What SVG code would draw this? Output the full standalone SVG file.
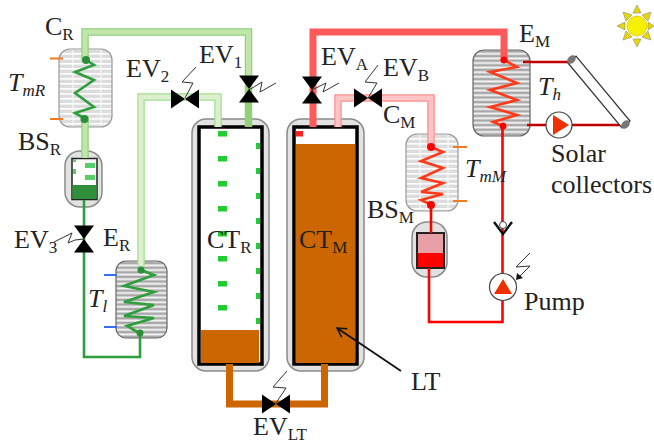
<svg xmlns="http://www.w3.org/2000/svg" width="654" height="445" viewBox="0 0 654 445">
<style>
text{font-family:"Liberation Serif","Times New Roman",serif;font-size:26px;fill:#222}
.i{font-style:italic}
.s{font-size:17px}
.box{stroke:#999;stroke-width:1.2}
.boxd{stroke:#666;stroke-width:1.2}
.coilg{fill:none;stroke:#2f9e3c;stroke-width:2.6}
.coilr{fill:none;stroke:#ff3a1a;stroke-width:2.6}
.zap{fill:none;stroke:#333;stroke-width:1}
.tank{fill:#e2e2e2;stroke:#8a8a8a;stroke-width:1.5}
.inner{fill:#fff;stroke:#000;stroke-width:3.5}
.thin{fill:none;stroke:#ff0000;stroke-width:2.6}
.thing{fill:none;stroke:#2f9e3c;stroke-width:2.6}
.dr{fill:none;stroke:#c00000;stroke-width:2.4}
.go{fill:none;stroke:#93d07c;stroke-width:7.500}
.gi{fill:none;stroke:#c2e5ac;stroke-width:5}
.lg{fill:none;stroke:#dcefce;stroke-width:5}
.lgo{fill:none;stroke:#a5de90;stroke-width:7.500}
.wr{fill:none;stroke:#ff5a5a;stroke-width:7}
.lr{fill:none;stroke:#ffc4c4;stroke-width:5}
.lro{fill:none;stroke:#ff8c8c;stroke-width:7.500}
.br{fill:none;stroke:#cc6600;stroke-width:7}
.dot{fill:#ff0000}.dotg{fill:#2a8f3a}
.sq{fill:#22cc33}
.tick{stroke:#f07a20;stroke-width:2}
.tickb{stroke:#3a6cf0;stroke-width:2}
.ray{fill:#e8d800;stroke:#888;stroke-width:.6}
.vs{stroke:#fff;stroke-width:1.500;opacity:.6}
</style>
<defs>
<pattern id="light" width="53" height="5" patternUnits="userSpaceOnUse"><rect width="53" height="5" fill="#dcdcdc"/><rect y="3" width="53" height="1.6" fill="#fff"/></pattern>
<pattern id="dark" width="53" height="4.6" patternUnits="userSpaceOnUse"><rect width="53" height="4.6" fill="#a8a8a8"/><rect y="2.2" width="53" height="2" fill="#f4f4f4"/></pattern>
<g id="vh"><path d="M-14,-9.500V9.500L0,0ZM14,-9.500V9.500L0,0Z" fill="#000"/></g>
<g id="vv"><path d="M-10,-13.500H10L0,0ZM-10,13.500H10L0,0Z" fill="#000"/></g>
<marker id="ah" markerWidth="12" markerHeight="12" refX="10" refY="6" orient="auto" markerUnits="userSpaceOnUse"><path d="M1,1L10,6L1,11" fill="none" stroke="#111" stroke-width="1.500"/></marker>
</defs>

<g id="CTR"><rect class="tank" x="192" y="119" width="77" height="252" rx="14"/><rect class="inner" x="199" y="127" width="63" height="237"/>
<rect x="201" y="330" width="58" height="33" fill="#cc6600"/>
<g class="sq"><rect x="218" y="131" width="9" height="5.500"/><rect x="218" y="156" width="9" height="5.500"/><rect x="218" y="181" width="9" height="5.500"/><rect x="218" y="206" width="9" height="5.500"/><rect x="218" y="231" width="9" height="5.500"/><rect x="218" y="256" width="9" height="5.500"/><rect x="218" y="281" width="9" height="5.500"/><rect x="218" y="305" width="9" height="5.500"/>
<rect x="256" y="143" width="4" height="6"/><rect x="256" y="168" width="4" height="6"/><rect x="256" y="193" width="4" height="6"/><rect x="256" y="218" width="4" height="6"/><rect x="256" y="243" width="4" height="6"/><rect x="256" y="268" width="4" height="6"/><rect x="256" y="293" width="4" height="6"/><rect x="256" y="318" width="4" height="6"/></g>
<text x="207" y="248">CT<tspan class="s" dy="5">R</tspan></text></g>

<g id="CTM"><rect class="tank" x="287" y="119" width="77" height="252" rx="14"/><rect class="inner" x="294" y="127" width="63" height="237"/>
<rect x="296" y="144" width="59" height="219" fill="#cc6600"/><rect x="296" y="131" width="7" height="5.500" fill="#ff2020"/>
<text x="299" y="248">CT<tspan class="s" dy="5">M</tspan></text></g>

<g id="CR"><rect class="box" x="59" y="49" width="53" height="78" rx="11" fill="url(#light)"/><path class="vs" d="M73,50V126M101,50V126"/><path class="tick" d="M50,58.500H63M50,119H63"/></g>
<g id="ER"><rect class="boxd" x="116" y="261" width="51" height="77" rx="10" fill="url(#dark)"/><path class="tickb" d="M104,275H117M104,327H117"/></g>
<g id="CM"><rect class="box" x="406" y="134" width="52" height="77" rx="11" fill="url(#light)"/><path class="vs" d="M420,135V210M448,135V210"/><path class="tick" d="M453,147H467M453,201H467"/></g>
<g id="EM"><rect class="boxd" x="473" y="50" width="57" height="86" rx="11" fill="url(#dark)"/></g>

<g id="BSR"><rect class="tank" x="65" y="151" width="37" height="56" rx="15"/><rect x="72" y="158.500" width="25" height="41" fill="#fff" stroke="#222" stroke-width="1.500"/><rect x="72.500" y="185" width="24" height="14" fill="#2f8f3a"/>
<path d="M85,163h10v5h-10zM85,175h10v5h-10zM73,169h3v5h-3zM73,159h3v3h-3z" fill="#55d066"/></g>
<g id="BSM"><rect class="tank" x="412" y="222" width="35" height="55" rx="15"/><rect x="417" y="233" width="27" height="35" fill="#e8a0a8" stroke="#222" stroke-width="2"/><rect x="418" y="253" width="25" height="14" fill="#ff0000"/></g>

<g id="connectors">
<path class="thing" d="M84,200V357H140V335"/>
<path class="thin" d="M429,268V322H502.500V126"/>
<path class="thin" d="M431,204V233"/>
<path class="dr" d="M523,62H572"/>
<path class="dr" d="M527,125H625"/>
<path class="go" d="M85,60V32H248.500V127"/><path class="gi" d="M85,60V32H248.500V76"/>
<path class="go" d="M85,118V158"/><path class="gi" d="M85,118V158"/>
<path class="lgo" d="M141,266V97H218V127"/>
<path class="lg" d="M141,266V97H218V127"/>
<path class="wr" d="M504,60V32H313V127"/>
<path class="lro" d="M338,127V98H431V146"/>
<path class="lr" d="M338,127V98H431V146"/>
<path class="br" d="M229.500,364V404H324.500V364"/>
<path d="M401,371L337,328" fill="none" stroke="#111" stroke-width="1.800" marker-end="url(#ah)"/>
</g>

<g id="coils">
<path class="coilg" d="M86,60L94,65L75,72L94,80L75,93L94,107L75,113L84,118"/><circle class="dotg" cx="86" cy="60" r="4"/><circle class="dotg" cx="84.500" cy="119" r="4"/>
<path class="coilg" d="M141,270L154,275L124,286L154,292L124,302L154,305L124,316L154,318L127,326L141,334"/><circle class="dotg" cx="141" cy="270" r="3.500"/><circle class="dotg" cx="140" cy="333" r="3.500"/>
<path class="coilr" d="M431,147L443,152L421,161L443,168L421,178L443,183L421,192L443,194L421,200L432,205"/><circle class="dot" cx="431" cy="147" r="4"/><circle class="dot" cx="431" cy="205" r="4"/>
<path class="coilr" d="M504,60L517,67L490,72L517,83L490,90L517,100L490,107L517,115L493,122L503,126"/><circle class="dot" cx="504" cy="60" r="3.500"/><circle class="dot" cx="503" cy="126" r="3.500"/>
</g>

<g id="Collector"><path d="M568,63L622,128L630,121L576,56Z" fill="#fff" stroke="#333" stroke-width="1.200"/><ellipse cx="571.500" cy="59.500" rx="5" ry="3.500" fill="#777" transform="rotate(-45 571.500 59.500)"/><ellipse cx="625.500" cy="124.500" rx="5" ry="3.500" fill="#777" transform="rotate(-45 625.500 124.500)"/></g>

<g id="SolarPump"><circle cx="559" cy="125" r="13" fill="#fff" stroke="#444" stroke-width="1.200"/><path d="M553,115V135L569,125Z" fill="#f03000"/></g>

<g id="Pump"><circle cx="503" cy="287" r="13.500" fill="#fff" stroke="#444" stroke-width="1.200"/><path d="M494,294H512L503,279Z" fill="#f03000"/>
<path class="zap" d="M530,253L516,267L530,266L518,278"/><path d="M516,280L517,273L523,278Z" fill="#111"/></g>

<g id="CheckValve"><path d="M494,222L503,234L512,222" fill="none" stroke="#111" stroke-width="2.400"/><circle cx="503" cy="225" r="3.500" fill="#fff" stroke="#444"/></g>

<g id="Sun"><path class="ray" d="M637,5l4,8h-8zM637,47l4,-8h-8zM617,26l8,-4v8zM654,26l-6,-4v8zM623,12l9,3l-6,6zM651,12l-9,3l6,6zM623,40l9,-3l-6,-6zM651,40l-9,-3l6,-6z"/><circle cx="637" cy="26" r="10" fill="#f5f000" stroke="#c8b800" stroke-width=".6"/></g>

<g id="EV1"><use href="#vv" x="249" y="89"/><path class="zap" d="M249,90L262,82L260,92L276,83"/></g>
<g id="EV2"><use href="#vh" x="185" y="99"/><path class="zap" d="M196,67L182,82L193,83L185,98"/></g>
<g id="EV3"><use href="#vv" x="84" y="239"/><path class="zap" d="M84,239L75,240L68,243L72,233L54,242"/></g>
<g id="EVA"><use href="#vv" x="312" y="90"/><path class="zap" d="M312,90L326,83L323,92L339,83"/></g>
<g id="EVB"><use href="#vh" x="368" y="98"/><path class="zap" d="M378,65L365,82L377,83L368,98"/></g>
<g id="EVLT"><use href="#vh" x="276" y="404"/><path class="zap" d="M287,371L273,387L286,388L276,403"/></g>

<g id="labels">
<text x="45" y="35">C<tspan class="s" dy="5">R</tspan></text>
<text x="8" y="91" class="i">T<tspan class="s" dy="5">mR</tspan></text>
<text x="18" y="150">BS<tspan class="s" dy="5">R</tspan></text>
<text x="126" y="77">EV<tspan class="s" dy="5">2</tspan></text>
<text x="199" y="63">EV<tspan class="s" dy="5">1</tspan></text>
<text x="321" y="65">EV<tspan class="s" dy="5">A</tspan></text>
<text x="383" y="76">EV<tspan class="s" dy="5">B</tspan></text>
<text x="383" y="123">C<tspan class="s" dy="5">M</tspan></text>
<text x="465" y="177" class="i">T<tspan class="s" dy="5">mM</tspan></text>
<text x="367" y="218">BS<tspan class="s" dy="5">M</tspan></text>
<text x="519" y="42">E<tspan class="s" dy="5">M</tspan></text>
<text x="538" y="95" class="i">T<tspan class="s" dy="5">h</tspan></text>
<text x="551" y="162">Solar</text>
<text x="551" y="193">collectors</text>
<text x="524" y="310">Pump</text>
<text x="14" y="248">EV<tspan class="s" dy="5">3</tspan></text>
<text x="103" y="246">E<tspan class="s" dy="5">R</tspan></text>
<text x="88" y="307" class="i">T<tspan class="s" dy="5">l</tspan></text>
<text x="411" y="390">LT</text>
<text x="253" y="435">EV<tspan class="s" dy="5">LT</tspan></text>
</g>
</svg>
